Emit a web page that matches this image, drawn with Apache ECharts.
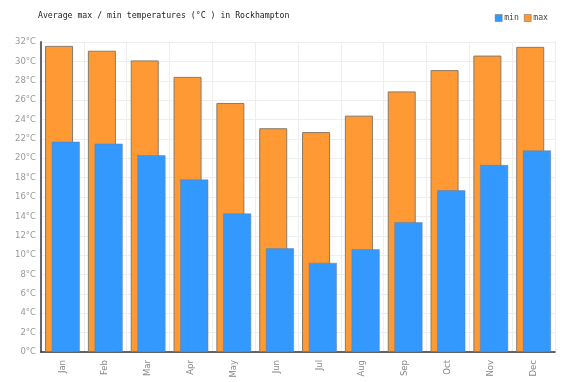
<!DOCTYPE html>
<html><head><meta charset="utf-8">
<script src="https://cdn.jsdelivr.net/npm/echarts@6/dist/echarts.min.js"></script>
<style>html,body{margin:0;padding:0;background:#fff}#c{width:581px;height:382px}</style>
</head><body><div id="c"></div>
<script>
var months = ['Jan','Feb','Mar','Apr','May','Jun','Jul','Aug','Sep','Oct','Nov','Dec'];
var maxTemps = [31.6, 31.1, 30.1, 28.4, 25.7, 23.1, 22.7, 24.4, 26.9, 29.1, 30.6, 31.5];
var minTemps = [21.7, 21.5, 20.3, 17.8, 14.3, 10.7, 9.2, 10.6, 13.4, 16.7, 19.3, 20.8];
var titleText = 'Average max / min temperatures (°C ) in Rockhampton';

var chart = echarts.init(document.getElementById('c'), null, {renderer:'canvas'});
chart.setOption({
  animation: false,
  backgroundColor: '#fff',
  title: {text: titleText, left: 33, top: 7, textStyle: {fontFamily: 'DejaVu Sans Mono', fontSize: 8.2, fontWeight: 'normal', color: '#222'}},
  legend: {data: ['min','max'], icon: 'rect', right: 28, top: 9, itemWidth: 7, itemHeight: 7, itemGap: 5,
    textStyle: {fontFamily: 'DejaVu Sans Mono', fontSize: 8.2, color: '#444', padding:[0,0,0,-3]},
    itemStyle: {borderWidth: 0.5, borderColor: '#666'}},
  grid: {left: 41, right: 26, top: 42, bottom: 30},
  xAxis: {type: 'category', data: months, boundaryGap: true,
    axisLine: {lineStyle: {color: '#333', width: 1.5}},
    axisTick: {show: false},
    splitLine: {show: true, lineStyle: {color: '#eee'}},
    axisLabel: {rotate: 90, color: '#888', fontFamily: 'DejaVu Sans', fontSize: 8.5, margin: 8}},
  yAxis: {type: 'value', min: 0, max: 32, interval: 2,
    axisLine: {show: true, lineStyle: {color: '#666', width: 2}},
    axisTick: {show: false},
    splitLine: {lineStyle: {color: '#eee'}},
    axisLabel: {formatter: '{value}°C', color: '#999', fontFamily: 'DejaVu Sans', fontSize: 8.5, margin: 5}},
  series: [
    {name: 'max', type: 'bar', data: maxTemps, barWidth: 28, barGap: '-76%',
     itemStyle: {color: '#ff9933', borderColor: '#8a7a6a', borderWidth: 1}},
    {name: 'min', type: 'bar', data: minTemps, barWidth: 28, barGap: '-76%',
     itemStyle: {color: '#3399ff', borderColor: '#6a7f99', borderWidth: 0.5}}
  ]
});
</script></body></html>
